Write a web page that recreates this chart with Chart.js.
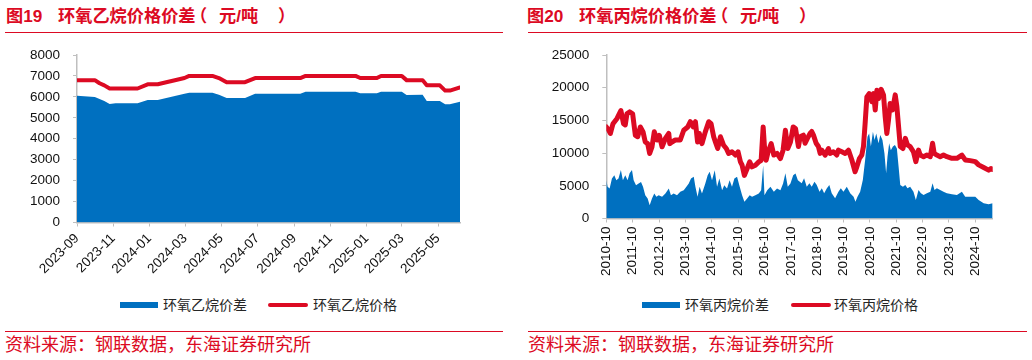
<!DOCTYPE html>
<html><head><meta charset="utf-8">
<script src="https://cdn.jsdelivr.net/npm/chart.js@4.4.1/dist/chart.umd.min.js"></script>
<style>
body{margin:0;width:1032px;height:360px;background:#fff;position:relative;overflow:hidden;font-family:"Liberation Sans","Noto Sans CJK SC",sans-serif;}
.title{position:absolute;top:5px;font-size:17.2px;font-weight:bold;color:#DC0A23;white-space:pre;line-height:22px}
.rule{position:absolute;background:#DC0A23}
.src{position:absolute;top:334px;font-size:18px;color:#DC0A23;line-height:22px;white-space:pre}
canvas{position:absolute}
.leg{position:absolute;top:296px;font-size:14px;color:#262626;line-height:18px;white-space:nowrap}
.sw{position:absolute}
</style></head>
<body>
<div class="title" style="left:6px">图19</div><div class="title" style="left:58px">环氧乙烷价格价差</div>
<div class="title" style="left:190px">（</div><div class="title" style="left:219px">元/吨</div><div class="title" style="left:278px">）</div>
<div class="title" style="left:527px">图20</div><div class="title" style="left:579px">环氧丙烷价格价差</div>
<div class="title" style="left:711px">（</div><div class="title" style="left:740px">元/吨</div><div class="title" style="left:799px">）</div>
<div class="rule" style="left:5px;width:498px;top:31.7px;height:1.6px"></div>
<div class="rule" style="left:528px;width:499px;top:31.7px;height:1.6px"></div>
<canvas id="c1" width="516" height="257" style="left:0;top:33px"></canvas>
<canvas id="c2" width="516" height="257" style="left:516px;top:33px"></canvas>
<div class="sw" style="left:120px;top:301.7px;width:37.7px;height:6.6px;background:#0070C0"></div>
<div class="leg" style="left:163px">环氧乙烷价差</div>
<div class="sw" style="left:268px;top:303px;width:40px;height:4px;border-radius:2px;background:#DC0A23"></div>
<div class="leg" style="left:313px">环氧乙烷价格</div>
<div class="sw" style="left:642px;top:301.7px;width:38.3px;height:6.6px;background:#0070C0"></div>
<div class="leg" style="left:685px">环氧丙烷价差</div>
<div class="sw" style="left:791px;top:303px;width:40px;height:4px;border-radius:2px;background:#DC0A23"></div>
<div class="leg" style="left:834px">环氧丙烷价格</div>
<div class="rule" style="left:5px;width:498px;top:331px;height:1.3px"></div>
<div class="rule" style="left:528px;width:499px;top:331px;height:1.3px"></div>
<div class="src" style="left:5px">资料来源：钢联数据，东海证券研究所</div>
<div class="src" style="left:528px">资料来源：钢联数据，东海证券研究所</div>
<script>
// ---- 图19 环氧乙烷 ----
const eoDates = ['2023-09-01','2023-10-01','2023-10-09','2023-10-17','2023-10-26','2023-11-05','2023-12-12','2023-12-29','2024-01-15','2024-02-29','2024-03-08','2024-04-16','2024-04-27','2024-05-10','2024-06-10','2024-06-27','2024-09-11','2024-09-20','2024-12-13','2024-12-21','2025-01-18','2025-01-25','2025-03-01','2025-03-09','2025-04-05','2025-04-12','2025-05-04','2025-05-13','2025-05-21','2025-06-07'];
const eoPrice = [6800,6800,6650,6550,6400,6400,6400,6600,6600,6900,7000,7000,6900,6700,6700,6900,6900,7000,7000,6900,6900,7000,7000,6800,6800,6550,6550,6300,6300,6450];
const eoSpread = [6050,6000,5900,5800,5660,5700,5700,5850,5850,6150,6200,6200,6100,5950,5950,6150,6150,6250,6250,6170,6170,6250,6250,6090,6100,5800,5800,5650,5650,5770];
const eoTickDates = ['2023-09-01','2023-11-01','2024-01-01','2024-03-01','2024-05-01','2024-07-01','2024-09-01','2024-11-01','2025-01-01','2025-03-01','2025-05-01'];
const eoTickLabels = ['2023-09','2023-11','2024-01','2024-03','2024-05','2024-07','2024-09','2024-11','2025-01','2025-03','2025-05'];
const eoYTicks = [0,1000,2000,3000,4000,5000,6000,7000,8000];

// ---- 图20 环氧丙烷 ----
const poPriceDates = ['2010-10-01','2010-11-03','2010-11-26','2011-01-02','2011-02-27','2011-04-21','2011-05-28','2011-06-21','2011-07-14','2011-08-20','2011-10-01','2011-11-08','2011-12-10','2012-01-16','2012-02-22','2012-03-24','2012-04-26','2012-05-24','2012-06-25','2012-07-27','2012-09-03','2012-10-05','2012-11-12','2012-12-28','2013-02-13','2013-02-26','2013-03-29','2013-05-14','2013-07-22','2013-09-08','2013-11-03','2013-12-09','2014-01-16','2014-02-17','2014-03-19','2014-04-12','2014-05-19','2014-07-04','2014-08-20','2014-09-22','2014-10-28','2014-11-21','2014-12-23','2015-01-30','2015-03-15','2015-04-21','2015-05-23','2015-07-09','2015-08-25','2015-10-01','2015-11-03','2015-11-26','2015-12-28','2016-02-04','2016-03-10','2016-04-12','2016-05-28','2016-07-14','2016-08-16','2016-09-13','2016-10-01','2016-10-24','2016-11-21','2017-01-02','2017-02-08','2017-03-24','2017-05-10','2017-06-16','2017-07-18','2017-08-20','2017-09-26','2017-11-03','2017-12-05','2018-01-15','2018-02-08','2018-03-24','2018-04-17','2018-05-19','2018-06-25','2018-07-18','2018-08-11','2018-09-17','2018-10-19','2018-11-12','2018-12-05','2019-01-20','2019-03-06','2019-03-29','2019-05-14','2019-06-30','2019-07-23','2019-09-08','2019-10-24','2019-12-09','2020-01-25','2020-03-10','2020-04-03','2020-05-10','2020-06-11','2020-07-04','2020-07-27','2020-08-20','2020-09-21','2020-10-28','2020-11-21','2020-12-14','2021-01-06','2021-01-29','2021-03-06','2021-04-08','2021-05-01','2021-05-24','2021-06-16','2021-07-09','2021-08-11','2021-09-17','2021-10-10','2021-11-03','2021-11-26','2022-01-02','2022-02-04','2022-03-06','2022-04-12','2022-05-28','2022-06-30','2022-08-06','2022-08-29','2022-10-15','2022-11-30','2023-01-16','2023-02-17','2023-03-11','2023-04-17','2023-06-02','2023-07-18','2023-09-03','2023-11-12','2024-01-20','2024-03-29','2024-05-14','2024-07-22','2024-10-01','2024-11-16','2025-01-25','2025-04-03','2025-05-05','2025-05-30'];
const poPrice = [14000,13500,13000,14500,15300,16500,14500,14300,16000,16300,16000,12700,12500,14000,13250,11700,11450,9950,10960,13250,12000,12700,10960,12230,13000,11450,11700,12000,12000,13500,14000,14800,14000,14800,11700,13000,11450,13250,14800,14500,12500,11700,10700,12500,11200,10700,9950,10200,9700,10200,8660,8150,6600,7650,8660,7900,8150,8660,8900,14000,10960,8900,10200,11450,9700,9950,9170,10450,13500,10700,11700,14000,13760,11000,12500,12750,11500,12250,13000,13300,12750,11500,11000,9950,10450,9700,10700,9950,10200,9700,10450,10200,9950,10450,8950,7150,7900,9200,9700,11000,14550,18600,19100,17850,19100,16600,19600,18350,19750,18900,15550,13000,15050,17600,16600,18900,17100,14000,11000,10700,12250,11250,11000,10200,8700,10450,9700,9450,9700,9450,11500,9950,9700,9450,9700,9450,9200,9200,9700,8950,8850,8700,8200,7800,7400,7650,7500];
const poSpreadDates = ['2010-10-01','2010-10-19','2010-11-16','2010-12-18','2011-01-20','2011-02-17','2011-03-19','2011-04-21','2011-05-19','2011-06-21','2011-07-23','2011-08-20','2011-09-22','2011-10-15','2011-11-17','2011-12-23','2012-01-25','2012-02-22','2012-03-24','2012-04-26','2012-05-24','2012-06-25','2012-07-27','2012-08-25','2012-09-26','2012-11-12','2012-12-28','2013-02-13','2013-03-15','2013-04-21','2013-06-07','2013-07-22','2013-09-08','2013-10-15','2013-11-17','2013-12-18','2014-01-25','2014-02-17','2014-03-19','2014-04-16','2014-05-19','2014-07-04','2014-08-06','2014-09-03','2014-10-05','2014-11-12','2014-12-14','2015-01-15','2015-02-22','2015-03-24','2015-05-01','2015-06-06','2015-07-09','2015-08-11','2015-09-17','2015-10-24','2015-11-26','2015-12-28','2016-02-04','2016-03-10','2016-04-12','2016-05-28','2016-07-14','2016-08-16','2016-09-13','2016-10-01','2016-11-08','2016-12-23','2017-02-08','2017-03-24','2017-05-10','2017-06-16','2017-07-18','2017-08-20','2017-09-26','2017-11-03','2017-12-05','2018-01-07','2018-03-01','2018-04-03','2018-05-10','2018-06-16','2018-07-18','2018-08-25','2018-09-26','2018-11-03','2018-12-05','2019-01-06','2019-02-13','2019-03-19','2019-04-21','2019-06-07','2019-07-23','2019-08-25','2019-10-01','2019-11-16','2020-01-02','2020-02-18','2020-03-15','2020-04-12','2020-05-19','2020-06-25','2020-07-27','2020-08-29','2020-09-21','2020-10-15','2020-11-12','2020-12-05','2020-12-28','2021-01-29','2021-02-22','2021-03-24','2021-04-21','2021-05-14','2021-06-02','2021-06-25','2021-07-18','2021-08-16','2021-09-13','2021-10-10','2021-11-03','2021-11-26','2022-01-02','2022-02-04','2022-03-06','2022-04-12','2022-05-28','2022-06-30','2022-08-06','2022-09-08','2022-10-15','2022-11-30','2023-01-16','2023-02-17','2023-03-15','2023-04-17','2023-06-02','2023-07-18','2023-09-03','2023-11-12','2024-01-20','2024-03-29','2024-05-14','2024-07-22','2024-10-01','2024-11-16','2025-01-25','2025-04-03','2025-05-30'];
const poSpread = [5860,4850,4600,6100,6600,5860,6100,7400,5860,6600,5860,6900,7400,5860,5100,5350,5600,4850,3570,3060,2040,3060,3820,3310,3570,3310,3820,4590,3570,3820,3570,4080,4330,4840,5350,6100,6370,4840,3310,4840,3820,5350,6600,7130,5860,7390,4840,6100,4330,5100,4590,5860,4840,6100,6370,4840,3570,2550,3060,3570,3310,3570,3820,4330,8150,3570,4330,4840,4080,4590,4330,5350,6900,4840,5350,6600,6880,5860,5380,6140,4870,5380,4870,5630,5120,4100,4610,3850,4610,5120,3850,3080,4100,4610,4100,4870,3850,3340,2570,3340,4100,5890,8950,12500,13000,11000,13270,12000,13000,11500,12750,12000,9950,6900,9450,11500,10450,11000,11250,10700,7900,5120,4870,5120,4610,4870,4100,2830,4360,3850,3590,3850,4100,5380,4360,4610,4360,4100,3850,3700,3590,4100,3340,3340,3340,2830,2320,2170,2320];
const poTickDates = ['2010-10-01','2011-10-01','2012-10-01','2013-10-01','2014-10-01','2015-10-01','2016-10-01','2017-10-01','2018-10-01','2019-10-01','2020-10-01','2021-10-01','2022-10-01','2023-10-01','2024-10-01'];
const poTickLabels = ['2010-10','2011-10','2012-10','2013-10','2014-10','2015-10','2016-10','2017-10','2018-10','2019-10','2020-10','2021-10','2022-10','2023-10','2024-10'];
const poYTicks = [0,5000,10000,15000,20000,25000];

const RED = '#DC0A23', BLUE = '#0070C0', AXIS = '#BFBFBF';
const FONT = {family:'"Liberation Sans", Arial, sans-serif', size:13.5};
function t(s){const p=s.split('-').map(Number);return Date.UTC(p[0],p[1]-1,p[2]);}
function pts(dates, vals){return dates.map((d,i)=>({x:t(d),y:vals[i]}));}

function build(id, o){
  return new Chart(document.getElementById(id), {
    type:'line',
    data:{datasets:[
      {label:o.priceLabel, data:pts(o.priceDates,o.price), borderColor:RED, borderWidth:o.lw, pointRadius:0, fill:false, tension:0, borderJoinStyle:'round', borderCapStyle:'round', order:0},
      {label:o.spreadLabel, data:pts(o.spreadDates,o.spread), borderWidth:0, borderColor:BLUE, backgroundColor:BLUE, fill:'origin', pointRadius:0, tension:0, order:1}
    ]},
    options:{
      responsive:false, animation:false, devicePixelRatio:1,
      layout:{padding:o.pad},
      plugins:{legend:{display:false}, tooltip:{enabled:false}},
      scales:{
        x:{type:'linear', min:t(o.spreadDates[0]), max:t(o.spreadDates[o.spreadDates.length-1]),
          afterFit(s){s.height=o.xh;},
          afterBuildTicks(s){s.ticks=o.tickDates.map(d=>({value:t(d)}));},
          ticks:{autoSkip:false, maxRotation:o.rot, minRotation:o.rot, padding:o.xpad, color:'#111', font:FONT,
            callback:(v,i)=>o.tickLabels[i]},
          grid:{drawOnChartArea:false, drawTicks:true, tickLength:4, color:AXIS, lineWidth:1},
          border:{display:true, color:AXIS, width:1.5}
        },
        y:{min:0, max:o.ymax,
          afterFit(s){s.width=o.yw;},
          afterBuildTicks(s){s.ticks=o.yTicks.map(v=>({value:v}));},
          ticks:{autoSkip:false, padding:13, color:'#111', font:FONT, callback:v=>String(v)},
          grid:{drawOnChartArea:false, drawTicks:true, tickLength:4, color:AXIS, lineWidth:1},
          border:{display:true, color:AXIS, width:1.5}
        }
      }
    }
  });
}

build('c1', {priceLabel:'环氧乙烷价格', spreadLabel:'环氧乙烷价差', priceDates:eoDates, price:eoPrice, spreadDates:eoDates, spread:eoSpread,
  tickDates:eoTickDates, tickLabels:eoTickLabels, yTicks:eoYTicks, ymax:8000, lw:4, rot:45, xpad:4,
  pad:{left:0,right:56,top:22,bottom:7.5}, xh:60, yw:77});
build('c2', {priceLabel:'环氧丙烷价格', spreadLabel:'环氧丙烷价差', priceDates:poPriceDates, price:poPrice, spreadDates:poSpreadDates, spread:poSpread,
  tickDates:poTickDates, tickLabels:poTickLabels, yTicks:poYTicks, ymax:25000, lw:5, rot:90, xpad:4,
  pad:{left:0,right:39.3,top:22,bottom:6.5}, xh:65, yw:90.3});
</script>
</body></html>
